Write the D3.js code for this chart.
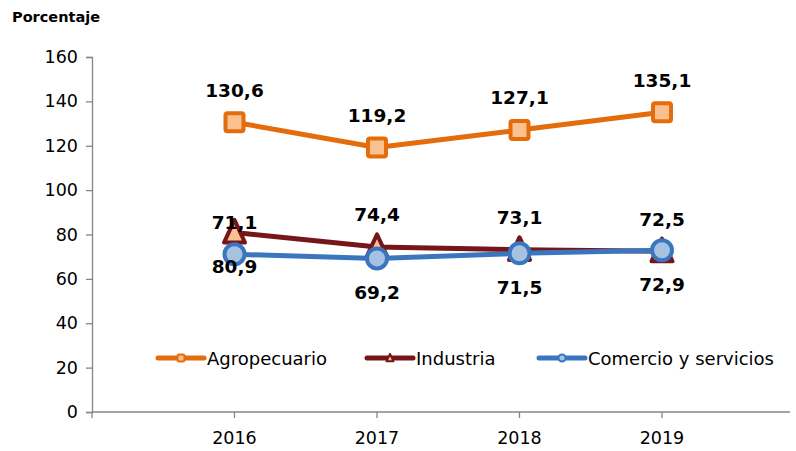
<!DOCTYPE html>
<html>
<head>
<meta charset="utf-8">
<script src="https://cdn.jsdelivr.net/npm/d3@7"></script>
<style>
  html, body { margin: 0; padding: 0; background: #fff; }
  svg { display: block; }
</style>
</head>
<body>
<svg id="chart" width="796" height="451"></svg>
<script>
// Years on the category axis
const years = ["2016", "2017", "2018", "2019"];

// Series values (percent)
const agropecuario = [130.6, 119.2, 127.1, 135.1];
const industria = [80.9, 74.4, 73.1, 72.5];
const comercio = [71.1, 69.2, 71.5, 72.9];

// Y axis ticks
const yTicks = [0, 20, 40, 60, 80, 100, 120, 140, 160];

// Which side of each point its value label sits on
const industriaSide = ["below", "above", "above", "above"];
const comercioSide = ["above", "below", "below", "below"];
const agroSide = ["above", "above", "above", "above"];

const svg = d3.select("#chart");
const font = "'DejaVu Sans', Verdana, sans-serif";

const x0 = 92, x1 = 790, yTop = 57, yBottom = 412;
const x = d3.scaleLinear().domain([-1, 4]).range([x0, x0 + 142.5 * 5]);
const y = d3.scaleLinear().domain([0, 160]).range([yBottom, yTop]);

// Axis title
svg.append("text")
  .attr("x", 12).attr("y", 22)
  .attr("font-family", font).attr("font-weight", "bold").attr("font-size", 14.5)
  .attr("fill", "#000")
  .text("Porcentaje");

// Y axis
const yAxis = svg.append("g").attr("transform", `translate(${x0},0)`)
  .call(d3.axisLeft(y).tickValues(yTicks).tickSize(6).tickPadding(8).tickFormat(d3.format("d")));
yAxis.select(".domain").attr("stroke", "#868686").attr("stroke-width", 1.3);
yAxis.selectAll(".tick line").attr("stroke", "#868686").attr("stroke-width", 1.3);
yAxis.selectAll(".tick text").attr("font-family", font).attr("font-size", 17.5).attr("fill", "#000");

// X axis
const xg = svg.append("g");
xg.append("line").attr("x1", x0).attr("x2", x1).attr("y1", yBottom).attr("y2", yBottom)
  .attr("stroke", "#868686").attr("stroke-width", 1.3);
const tickPos = [-1, 0, 1, 2, 3];
xg.selectAll("line.tk").data(tickPos).enter().append("line").attr("class", "tk")
  .attr("x1", d => x(d)).attr("x2", d => x(d))
  .attr("y1", yBottom).attr("y2", yBottom + 6)
  .attr("stroke", "#868686").attr("stroke-width", 1.3);
xg.selectAll("text").data(years).enter().append("text")
  .attr("x", (d, i) => x(i)).attr("y", yBottom + 32)
  .attr("text-anchor", "middle")
  .attr("font-family", font).attr("font-size", 17.5).attr("fill", "#000")
  .text(d => d);

const line = d3.line().x((d, i) => x(i)).y(d => y(d));

const series = [
  { name: "Agropecuario", values: agropecuario, color: "#E46C0A", fill: "#FAC090", marker: "square", side: agroSide },
  { name: "Industria", values: industria, color: "#77161A", fill: "#FAC090", marker: "triangle", side: industriaSide },
  { name: "Comercio y servicios", values: comercio, color: "#3A76BF", fill: "#A7C2E0", marker: "circle", side: comercioSide }
];

function drawMarker(g, type, cx, cy, s, color, fill, sw) {
  if (type === "square") {
    g.append("rect").attr("x", cx - s).attr("y", cy - s).attr("width", 2 * s).attr("height", 2 * s)
      .attr("rx", 2).attr("fill", fill).attr("stroke", color).attr("stroke-width", sw).attr("stroke-linejoin", "round");
  } else if (type === "triangle") {
    const h = s * 1.2;
    g.append("path")
      .attr("d", `M${cx},${cy - h} L${cx + s},${cy + h * 0.8} L${cx - s},${cy + h * 0.8} Z`)
      .attr("fill", fill).attr("stroke", color).attr("stroke-width", sw).attr("stroke-linejoin", "round");
  } else {
    g.append("circle").attr("cx", cx).attr("cy", cy).attr("r", s)
      .attr("fill", fill).attr("stroke", color).attr("stroke-width", sw);
  }
}

const plot = svg.append("g");
series.forEach(s => {
  plot.append("path").datum(s.values)
    .attr("d", line).attr("fill", "none")
    .attr("stroke", s.color).attr("stroke-width", 5).attr("stroke-linejoin", "round").attr("stroke-linecap", "round");
  const mg = plot.append("g");
  const size = s.marker === "circle" ? 10 : s.marker === "triangle" ? 10.5 : 9;
  s.values.forEach((v, i) => {
    drawMarker(mg, s.marker, x(i), y(v), size, s.color, s.fill, 4);
  });
});

// Value labels
const fmt = v => d3.format(".1f")(v).replace(".", ",");
const labels = svg.append("g");
series.forEach(s => {
  s.values.forEach((v, i) => {
    const dy = s.side[i] === "above" ? -32 : 34;
    labels.append("text")
      .attr("x", x(i)).attr("y", y(v) + dy)
      .attr("text-anchor", "middle").attr("dominant-baseline", "central")
      .attr("font-family", font).attr("font-weight", "bold").attr("font-size", 18.5).attr("fill", "#000")
      .text(fmt(v));
  });
});

// Legend
const legendY = 358;
const legendX = [158, 367, 539];
const lg = svg.append("g");
series.forEach((s, i) => {
  const lx = legendX[i];
  lg.append("line").attr("x1", lx).attr("x2", lx + 46).attr("y1", legendY).attr("y2", legendY)
    .attr("stroke", s.color).attr("stroke-width", 5).attr("stroke-linecap", "round");
  drawMarker(lg, s.marker, lx + 23, legendY, 3.5, s.color, s.fill, 2);
  lg.append("text").attr("x", lx + 49).attr("y", legendY)
    .attr("dominant-baseline", "central")
    .attr("font-family", font).attr("font-size", 18).attr("fill", "#000")
    .text(s.name);
});
</script>
</body>
</html>
